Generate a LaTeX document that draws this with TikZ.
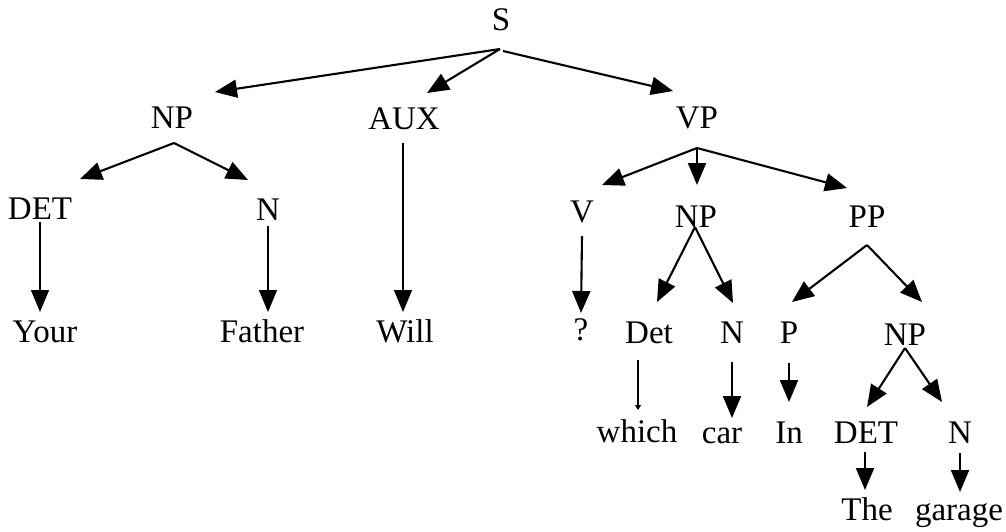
\documentclass[tikz,border=0pt]{standalone}
\usepackage{fontspec}
\setmainfont{Liberation Serif}
\usepackage{tikz}
\usetikzlibrary{arrows.meta}

\tikzset{
    cat/.style={anchor=base, inner sep=0pt, font=\fontsize{33}{37}\selectfont},
    arr/.style={line width=2.1pt, -{Triangle[length=22pt,width=18pt]}},
    thinarr/.style={line width=1.3pt, -{Triangle[length=22pt,width=18pt]}}
}

\begin{document}
\begin{tikzpicture}[x=1pt,y=-1pt]
    \fill[white] (0,0) rectangle (1006,531);
    \useasboundingbox (0,0) rectangle (1006,531);

    % top levels
    \node[cat] (S) at (501,30) {S};
    \node[cat] (np1) at (172,128) {NP};
    \node[cat] (aux) at (404,129) {AUX};
    \node[cat] (vp) at (697,128) {VP};

    \node[cat] (det1) at (40,219) {DET};
    \node[cat] (n1) at (268,220) {N};
    \node[cat] (v) at (582,222) {V};
    \node[cat] (np2) at (696,227) {NP};
    \node[cat] (pp) at (867,227) {PP};

    % words and lower categories
    \node[cat] (your) at (45,342) {Your};
    \node[cat] (father) at (262,342) {Father};
    \node[cat] (will) at (405,342) {Will};
    \node[cat] (q) at (581,340) {?};
    \node[cat] (det2) at (649,343) {Det};
    \node[cat] (n2) at (732,343) {N};
    \node[cat] (p) at (789,343) {P};
    \node[cat] (np3) at (905,345) {NP};

    \node[cat] (which) at (637,442) {which};
    \node[cat] (car) at (722,443) {car};
    \node[cat] (in) at (789,443) {In};
    \node[cat] (det3) at (866,443) {DET};
    \node[cat] (n3) at (960,443) {N};

    \node[cat] (the) at (867,520) {The};
    \node[cat] (garage) at (959,520) {garage};

    % S
    \draw[arr] ([shift={(-1,19)}]S.base) -- ([shift={(43,-36)}]np1.base);
    \draw[arr] ([shift={(-1,19)}]S.base) -- ([shift={(23,-36)}]aux.base);
    \draw[arr] ([shift={(2,21)}]S.base) -- ([shift={(-24,-37)}]vp.base);

    % subject NP and AUX
    \draw[arr] ([shift={(2,15)}]np1.base) -- ([shift={(40,-40)}]det1.base);
    \draw[arr] ([shift={(2,15)}]np1.base) -- ([shift={(-20,-40)}]n1.base);
    \draw[thinarr] ([shift={(0,3)}]det1.base) -- ([shift={(-5,-30)}]your.base);
    \draw[thinarr] ([shift={(0,6)}]n1.base) -- ([shift={(6,-30)}]father.base);
    \draw[thinarr] ([shift={(-1,14)}]aux.base) -- ([shift={(-2,-30)}]will.base);

    % VP
    \draw[arr] ([shift={(0,20)}]vp.base) -- ([shift={(20,-37)}]v.base);
    \draw[arr] ([shift={(0,20)}]vp.base) -- ([shift={(1,-42)}]np2.base);
    \draw[arr] ([shift={(0,20)}]vp.base) -- ([shift={(-20,-39)}]pp.base);
    \draw[arr] ([shift={(0,14)}]v.base) -- ([shift={(0,-27)}]q.base);

    \draw[arr] ([shift={(-1,0)}]np2.base) -- ([shift={(8,-41)}]det2.base);
    \draw[arr] ([shift={(-1,0)}]np2.base) -- ([shift={(1,-40)}]n2.base);
    \draw[line width=1.1pt, -{Triangle[length=5pt,width=6pt]}]
        ([shift={(-11,17)}]det2.base) -- ([shift={(1,-32)}]which.base);
    \draw[arr] ([shift={(0,19)}]n2.base) -- ([shift={(10,-25)}]car.base);

    % PP
    \draw[arr] ([shift={(0,18)}]pp.base) -- ([shift={(3,-41)}]p.base);
    \draw[arr] ([shift={(0,18)}]pp.base) -- ([shift={(17,-43)}]np3.base);
    \draw[arr] ([shift={(0,20)}]p.base) -- ([shift={(0,-41)}]in.base);
    \draw[arr] ([shift={(0,3)}]np3.base) -- ([shift={(1,-36)}]det3.base);
    \draw[arr] ([shift={(0,3)}]np3.base) -- ([shift={(-18,-41)}]n3.base);
    \draw[arr] ([shift={(-1,9)}]det3.base) -- ([shift={(-2,-30)}]the.base);
    \draw[arr] ([shift={(0,10)}]n3.base) -- ([shift={(1,-28)}]garage.base);

\end{tikzpicture}
\end{document}
